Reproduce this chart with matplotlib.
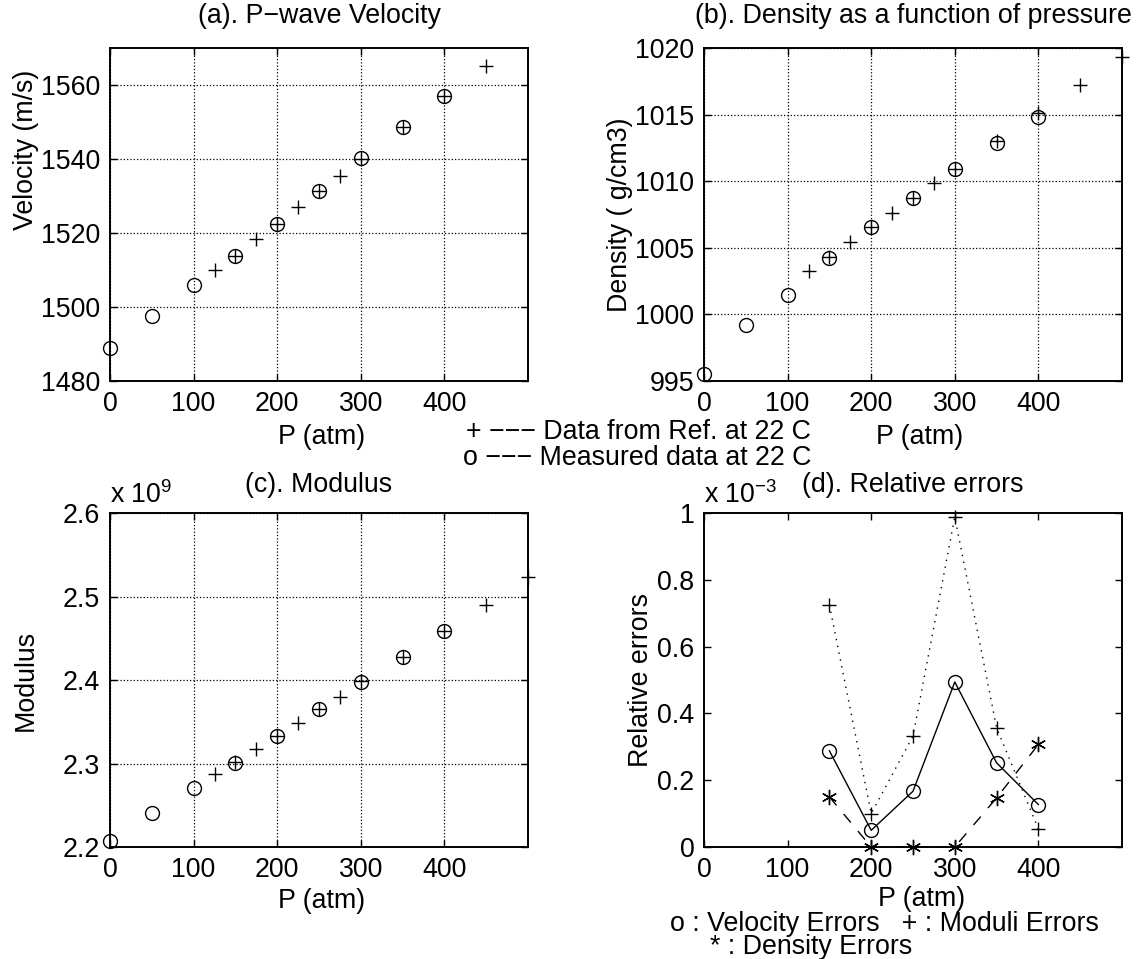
import numpy as np
import matplotlib
matplotlib.use('Agg')
import matplotlib.pyplot as plt

plt.rcParams['font.family'] = ['Liberation Sans', 'DejaVu Sans']
plt.rcParams['mathtext.fontset'] = 'custom'
plt.rcParams['mathtext.rm'] = 'Liberation Sans'
plt.rcParams['mathtext.default'] = 'regular'

# pressure values
p_meas = [0, 50, 100, 150, 200, 250, 300, 350, 400]
p_ref = [125, 150, 175, 200, 225, 250, 275, 300, 350, 400, 450, 500]
p_err = [150, 200, 250, 300, 350, 400]

# (a) velocity m/s
vel_meas = [1488.9, 1497.6, 1506.0, 1513.8, 1522.5, 1531.3, 1540.4, 1548.6, 1556.9]
vel_ref = [1510.0, 1513.8, 1518.3, 1522.5, 1526.9, 1531.3, 1535.4, 1540.0, 1548.6, 1556.9, 1565.2, 1573.5]

# (b) density
den_meas = [995.55, 999.18, 1001.46, 1004.22, 1006.57, 1008.73, 1010.91, 1012.89, 1014.82]
den_ref = [1003.29, 1004.34, 1005.47, 1006.57, 1007.65, 1008.73, 1009.86, 1010.91, 1012.99, 1015.11, 1017.22, 1019.30]

# (c) modulus (x 1e9)
mod_meas = [2.2072, 2.2408, 2.2712, 2.3008, 2.3328, 2.3656, 2.3980, 2.4280, 2.4588]
mod_ref = [2.2872, 2.3020, 2.3176, 2.3328, 2.3484, 2.3656, 2.3796, 2.3988, 2.4280, 2.4588, 2.4904, 2.5228]

# (d) relative errors (x 1e-3)
err_vel = [0.288, 0.050, 0.167, 0.494, 0.252, 0.127]
err_mod = [0.725, 0.100, 0.332, 0.988, 0.357, 0.054]
err_den = [0.150, 0.0, 0.0, 0.0, 0.147, 0.307]

W, H = 1148, 959
fig = plt.figure(figsize=(W/100, H/100), dpi=100)

def axpix(l, t, r, b):
    return fig.add_axes([l/W, 1-b/H, (r-l)/W, (b-t)/H])

ax_a = axpix(110, 48, 528, 381)
ax_b = axpix(704, 48, 1122, 381)
ax_c = axpix(110, 513, 528, 847)
ax_d = axpix(704, 513, 1122, 847)

fs = 19.3
mk = dict(ms=10, mfc='none', mec='k', mew=1.0, ls='none', clip_on=False)

def style(ax, grid=True):
    ax.set_xlim(0, 500)
    ax.set_xticks([0, 100, 200, 300, 400])
    ax.tick_params(direction='in', top=True, right=True, length=5, width=1,
                   labelsize=fs)
    ax.tick_params(axis='x', pad=7)
    ax.tick_params(axis='y', pad=7)
    for s in ax.spines.values():
        s.set_linewidth(1.4)
    if grid:
        ax.grid(True, color='k', ls=':', lw=0.9)

for ax, ym, yr, lim in [(ax_a, vel_meas, vel_ref, (1480, 1570)),
                        (ax_b, den_meas, den_ref, (995, 1020)),
                        (ax_c, mod_meas, mod_ref, (2.2, 2.6))]:
    pm, vm = np.array(p_meas), np.array(ym)
    pr, vr = np.array(p_ref), np.array(yr)
    # like MATLAB: points outside the y range are not drawn
    km = (vm >= lim[0]) & (vm <= lim[1])
    kr = (vr >= lim[0]) & (vr <= lim[1])
    ax.plot(pm[km], vm[km], marker='o', **mk)
    ax.plot(pr[kr], vr[kr], marker='+', **mk)
    ax.set_ylim(*lim)
    style(ax)

ax_a.set_yticks([1480, 1500, 1520, 1540, 1560])
ax_b.set_yticks([995, 1000, 1005, 1010, 1015, 1020])
ax_c.set_yticks([2.2, 2.3, 2.4, 2.5, 2.6])
ax_c.set_yticklabels(['2.2', '2.3', '2.4', '2.5', '2.6'])

ax_d.plot(p_err, err_vel, color='k', lw=1, marker='o', ms=10, mfc='none', mec='k', clip_on=False)
ax_d.plot(p_err, err_mod, color='k', lw=1, ls=(0, (1, 4)), marker='+', ms=10, mec='k', clip_on=False)
ax_d.plot(p_err, err_den, color='k', lw=1, ls=(0, (8, 8)), marker=(6, 2, 0), ms=11, mec='k', clip_on=False)
style(ax_d, grid=False)
ax_d.set_ylim(0, 1)
ax_d.set_yticks([0, 0.2, 0.4, 0.6, 0.8, 1])
ax_d.set_yticklabels(['0', '0.2', '0.4', '0.6', '0.8', '1'])

for ax, t, ty in [(ax_a, '(a). P\u2212wave Velocity', 1.096), (ax_b, '(b). Density as a function of pressure', 1.096),
                  (ax_c, '(c). Modulus', 1.084), (ax_d, '(d). Relative errors', 1.084)]:
    ax.set_title(t, fontsize=fs, y=ty, va='center', pad=0)

for ax, yc, xc in [(ax_a, -0.168, 0.505), (ax_b, -0.168, 0.515), (ax_c, -0.162, 0.505), (ax_d, -0.155, 0.52)]:
    ax.set_xlabel('P (atm)', fontsize=fs, va='center')
    ax.xaxis.set_label_coords(xc, yc)

ax_a.set_ylabel('Velocity (m/s)', fontsize=fs, va='center')
ax_a.yaxis.set_label_coords(-0.201, 0.694)
ax_b.set_ylabel('Density ( g/cm3)', fontsize=fs, va='center')
ax_b.yaxis.set_label_coords(-0.2, 0.5)
ax_c.set_ylabel('Modulus', fontsize=fs, va='center')
ax_c.yaxis.set_label_coords(-0.201, 0.5)
ax_d.set_ylabel('Relative errors', fontsize=fs, va='center')
ax_d.yaxis.set_label_coords(-0.151, 0.5)

ax_c.text(0, 1.03, r'x 10$^{9}$', transform=ax_c.transAxes, fontsize=fs, va='baseline', ha='left')
ax_d.text(0, 1.03, r'x 10$^{-3}$', transform=ax_d.transAxes, fontsize=fs, va='baseline', ha='left')

fig.text(811/W, 1-432/H, '+ \u2212\u2212\u2212 Data from Ref. at 22 C', fontsize=fs, va='center', ha='right')
fig.text(811/W, 1-458/H, 'o \u2212\u2212\u2212 Measured data at 22 C', fontsize=fs, va='center', ha='right')
fig.text(670/W, 1-924/H, 'o : Velocity Errors   + : Moduli Errors', fontsize=fs, va='center', ha='left')
fig.text(710/W, 1-947/H, '* : Density Errors', fontsize=fs, va='center', ha='left')

fig.savefig('out.png', dpi=100)
